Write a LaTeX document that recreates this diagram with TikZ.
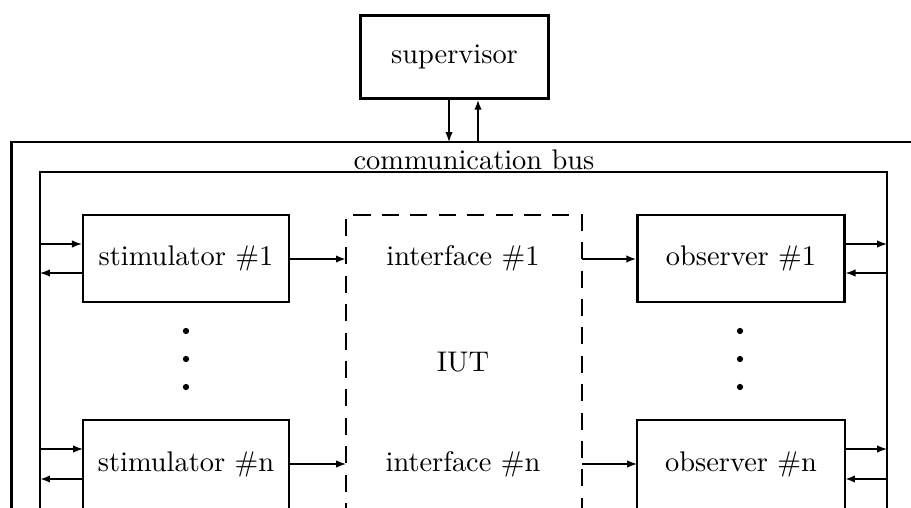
\documentclass[tikz,border=0pt]{standalone}
\usetikzlibrary{arrows.meta}
\begin{document}
\begin{tikzpicture}[x=0.352pt,y=-0.352pt,
  box/.style={draw,line width=0.75pt,inner sep=0pt},
  bus/.style={line width=0.75pt},
  arr/.style={line width=0.45pt,-{Latex[length=3.5pt,width=2.6pt]}},
  tarr/.style={line width=0.75pt,-{Latex[length=3.5pt,width=2.6pt]}},
  dot/.style={circle,fill,inner sep=0pt,minimum size=2.2pt}]
\useasboundingbox (0,0) rectangle (911,508);
\begin{scope}
\clip (0,0) rectangle (911,508);
% supervisor
\node[box,minimum width=188*0.352pt,minimum height=83*0.352pt] (sup) at (454.5,57) {supervisor};
% bus
\draw[bus] (11.5,510) |- (915,142);
\draw[bus] (40,510) |- (887,172) -- (887,510);
\node (busl) at (474,160) {communication bus};
\coordinate (bo1) at (449,142);
\coordinate (bo2) at (478,142);
\draw[arr] (sup.south -| bo1) -- (bo1);
\draw[tarr] (bo2) -- (sup.south -| bo2);
% stimulators
\node[box,minimum width=206*0.352pt,minimum height=87*0.352pt] (s1) at (186,258.5) {stimulator \#1};
\draw[box] (83,520) -- (83,420) -- (289,420) -- (289,520);
\node (sn) at (186,464) {stimulator \#n};
% observers
\node[box,minimum width=207*0.352pt,minimum height=87*0.352pt] (o1) at (741,258.5) {observer \#1};
\draw[box] (637,520) -- (637,420) -- (845,420) -- (845,520);
\node (on) at (741,464) {observer \#n};
% interface
\draw[dashed,line width=0.6pt,dash pattern=on 6pt off 4pt] (346,520) -- (346,215) -- (582,215) -- (582,520);
\node (i1) at (463,258) {interface \#1};
\node (iut) at (463,362) {IUT};
\node (in) at (463,464) {interface \#n};
% bus coordinates
\coordinate (lb1a) at (40,244); \coordinate (lb1b) at (40,273);
\coordinate (lbna) at (40,449); \coordinate (lbnb) at (40,479);
\coordinate (rb1a) at (887,244); \coordinate (rb1b) at (887,273);
\coordinate (rbna) at (887,449); \coordinate (rbnb) at (887,479);
\coordinate (snw) at (83,464); \coordinate (sne) at (289,464);
\coordinate (onw) at (637,464); \coordinate (one) at (845,464);
\coordinate (ifl) at (346,464); \coordinate (ifr) at (582,464);
% stimulator/bus arrows
\draw[arr] (lb1a) -- (lb1a -| s1.west);
\draw[arr] (lb1b -| s1.west) -- (lb1b);
\draw[arr] (lbna) -- (lbna -| snw);
\draw[tarr] (lbnb -| snw) -- (lbnb);
% observer/bus arrows
\draw[arr] (rb1a -| o1.east) -- (rb1a);
\draw[arr] (rb1b) -- (rb1b -| o1.east);
\draw[arr] (rbna -| one) -- (rbna);
\draw[tarr] (rbnb) -- (rbnb -| one);
% stimulator -> interface -> observer
\draw[tarr] (s1.east |- 0,259) -- (346,259);
\draw[tarr] (582,259) -- (o1.west |- 0,259);
\draw[arr] (sne) -- (ifl);
\draw[arr] (ifr) -- (onw);
% dots
\foreach \y/\n in {331/a,359/b,387/c}{
  \node[dot] (ls\n) at (186,\y) {};
  \node[dot] (ro\n) at (740,\y) {};
}
\end{scope}
\end{tikzpicture}
\end{document}
